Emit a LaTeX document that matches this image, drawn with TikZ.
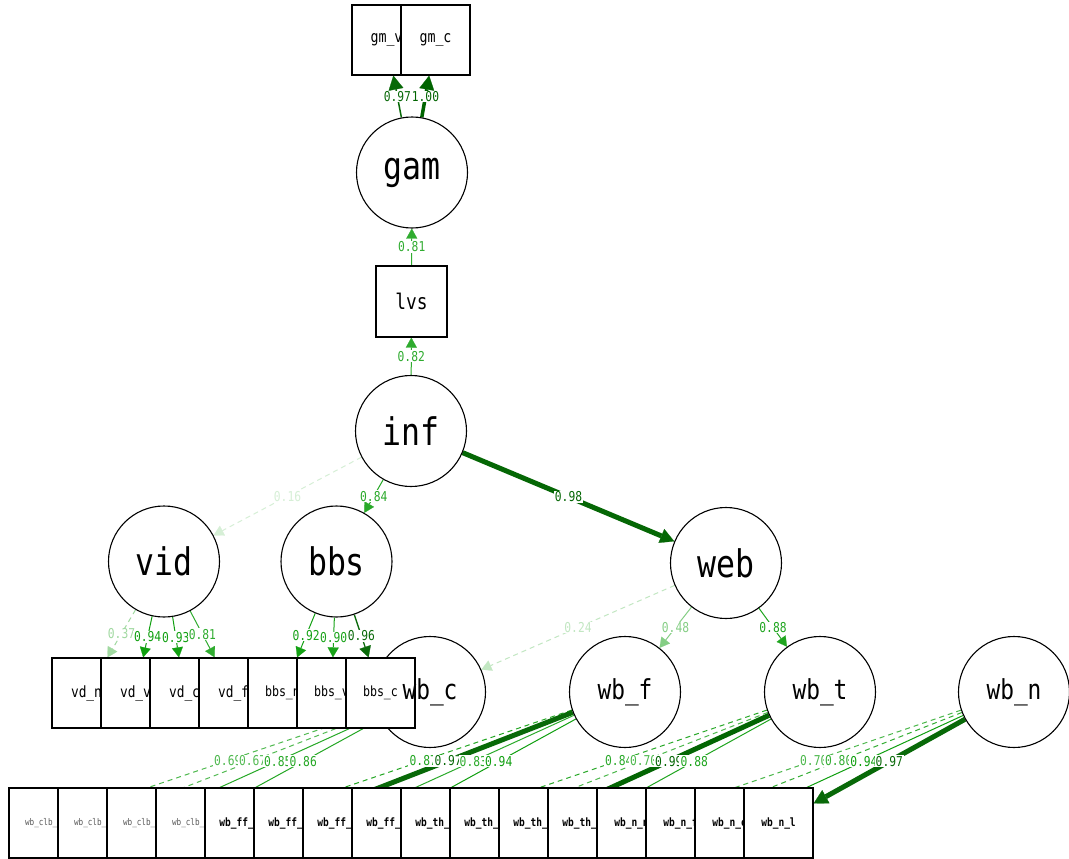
\documentclass[tikz,border=0pt]{standalone}
\usepackage{fontspec}
\newfontfamily\semfont[FakeStretch=0.83]{DejaVu Sans Mono}
\usetikzlibrary{arrows.meta}

\pgfdeclarelayer{bg}
\pgfdeclarelayer{edges}
\pgfdeclarelayer{elabels}
\pgfsetlayers{bg,edges,elabels,main}

\definecolor{poscol}{HTML}{009900}
\definecolor{cutcol}{HTML}{006400}

% \semedge[extra style]{from}{to}{loading}
% colour fades with the loading; loadings above the cut are dark and wide
\newcommand\semedge[4][]{%
  \pgfmathtruncatemacro\epct{round(100*#4)}%
  \ifdim #4pt<0.955pt
    \colorlet{ecol}{poscol!\epct!white}%
    \tikzset{ecur/.style={line width=1pt,-{Triangle[length=10pt,width=11pt,line width=0.2pt]}}}%
  \else
    \colorlet{ecol}{cutcol!\epct!white}%
    \ifdim #4pt<0.965pt
      \tikzset{ecur/.style={line width=1.3pt,-{Triangle[length=11pt,width=12pt,line width=0.2pt]}}}%
    \else
      \tikzset{ecur/.style={line width=5pt,-{Triangle[length=14pt,width=15pt,line width=0.2pt]}}}%
    \fi
  \fi
  \begin{pgfonlayer}{edges}
    \draw[ecol, ecur, #1] (#2) -- (#3);
  \end{pgfonlayer}
  \begin{pgfonlayer}{elabels}
    \path (#2) -- (#3) node[midway, elab, text=ecol] (lab-#2-#3) {#4};
  \end{pgfonlayer}%
}

\begin{document}
\begin{tikzpicture}[x=1pt, y=-1pt,
  latent/.style={circle, draw, line width=1.1pt, fill=white, minimum size=111pt,
    inner sep=0pt, font=\semfont\fontsize{38}{38}\selectfont},
  latsmall/.style={latent, font=\semfont\fontsize{27.5}{28}\selectfont},
  manifest/.style={rectangle, draw, line width=1.2pt, fill=white,
    minimum width=69pt, minimum height=70pt, inner sep=0pt},
  gmtxt/.style={font=\semfont\fontsize{16}{16}\selectfont},
  vdtxt/.style={font=\semfont\fontsize{15.5}{16}\selectfont},
  bbstxt/.style={font=\semfont\fontsize{14}{14}\selectfont},
  clbtxt/.style={font=\semfont\fontsize{9.2}{10}\selectfont, text=black!65},
  rowtxt/.style={font=\semfont\bfseries\fontsize{11.5}{12}\selectfont},
  elab/.style={font=\semfont\fontsize{13.6}{14}\selectfont, fill=white,
    inner xsep=1.2pt, inner ysep=0.8pt},
  brk/.style={dash pattern=on 5pt off 4pt}
]
\begin{pgfonlayer}{bg}
  \fill[white] (0,0) rectangle (1069,859);
\end{pgfonlayer}
\useasboundingbox (0,0) rectangle (1069,859);

% latent variables
\node[latent] (gam) at (412,172.5) {gam};
\node[latent] (inf) at (411,431) {inf};
\node[latent] (vid) at (164,561.5) {vid};
\node[latent] (bbs) at (336.5,561.5) {bbs};
\node[latent] (web) at (726,563) {web};
\node[latsmall] (wbc) at (430,692) {};
\node[latsmall] (wbf) at (625,692) {wb\_f};
\node[latsmall] (wbt) at (820,692) {wb\_t};
\node[latsmall] (wbn) at (1014,692) {wb\_n};

% indicators
\node[manifest, minimum width=71pt, minimum height=71pt,
  font=\semfont\fontsize{21.5}{22}\selectfont] (lvs) at (411.5,301.5) {lvs};

\node[manifest, gmtxt] (gmv) at (386.5,40) {gm\_v};
\node[manifest, gmtxt] (gmc) at (435.5,40) {gm\_c};

\node[manifest, vdtxt] (vdn) at (86.5,693) {vd\_n};
\node[manifest, vdtxt] (vdv) at (135.5,693) {vd\_v};
\node[manifest, vdtxt] (vdc) at (184.5,693) {vd\_c};
\node[manifest, vdtxt] (vdf) at (233.5,693) {vd\_f};
\node[manifest, bbstxt] (bbsn) at (282.5,693) {bbs\_n};
\node[manifest, bbstxt] (bbsv) at (331.5,693) {bbs\_v};
\node[manifest, bbstxt] (bbsc) at (380.5,693) {bbs\_c};

\node[manifest, clbtxt] (clbn) at (43.5,823) {wb\_clb\_n};
\node[manifest, clbtxt] (clbf) at (92.5,823) {wb\_clb\_f};
\node[manifest, clbtxt] (clbc) at (141.5,823) {wb\_clb\_c};
\node[manifest, clbtxt] (clbl) at (190.5,823) {wb\_clb\_l};
\node[manifest, rowtxt] (ffn) at (239.5,823) {wb\_ff\_n};
\node[manifest, rowtxt] (fff) at (288.5,823) {wb\_ff\_f};
\node[manifest, rowtxt] (ffc) at (337.5,823) {wb\_ff\_c};
\node[manifest, rowtxt] (ffl) at (386.5,823) {wb\_ff\_l};
\node[manifest, rowtxt] (thn) at (435.5,823) {wb\_th\_n};
\node[manifest, rowtxt] (thf) at (484.5,823) {wb\_th\_f};
\node[manifest, rowtxt] (thc) at (533.5,823) {wb\_th\_c};
\node[manifest, rowtxt] (thl) at (582.5,823) {wb\_th\_l};
\node[manifest, rowtxt] (nn) at (631.5,823) {wb\_n\_n};
\node[manifest, rowtxt] (nf) at (680.5,823) {wb\_n\_f};
\node[manifest, rowtxt] (nc) at (729.5,823) {wb\_n\_c};
\node[manifest, rowtxt] (nl) at (778.5,823) {wb\_n\_l};

% label of wb_c sits above the overlapping indicator box
\node[font=\semfont\fontsize{27.5}{28}\selectfont] (wbctxt) at (wbc) {wb\_c};

% structural paths
\semedge[line width=1.5pt]{gam}{gmv}{0.97}
\semedge[line width=3.5pt]{gam}{gmc}{1.00}
\semedge{lvs}{gam}{0.81}
\semedge{inf}{lvs}{0.82}
\semedge[brk]{inf}{vid}{0.16}
\semedge{inf}{bbs}{0.84}
\semedge{inf}{web}{0.98}

\semedge[brk]{vid}{vdn}{0.37}
\semedge{vid}{vdv}{0.94}
\semedge{vid}{vdc}{0.93}
\semedge{vid}{vdf}{0.81}

\semedge{bbs}{bbsn}{0.92}
\semedge{bbs}{bbsv}{0.90}
\semedge{bbs}{bbsc}{0.96}

\semedge[brk]{web}{wbc}{0.24}
\semedge{web}{wbf}{0.48}
\semedge{web}{wbt}{0.88}

\semedge[brk]{wbc}{clbn}{0.69}
\semedge[brk]{wbc}{clbf}{0.67}
\semedge{wbc}{clbc}{0.85}
\semedge{wbc}{clbl}{0.86}

\semedge[brk]{wbf}{ffn}{0.87}
\semedge{wbf}{fff}{0.97}
\semedge{wbf}{ffc}{0.83}
\semedge{wbf}{ffl}{0.94}

\semedge[brk]{wbt}{thn}{0.84}
\semedge[brk]{wbt}{thf}{0.70}
\semedge{wbt}{thc}{0.99}
\semedge{wbt}{thl}{0.88}

\semedge[brk]{wbn}{nn}{0.70}
\semedge[brk]{wbn}{nf}{0.80}
\semedge{wbn}{nc}{0.94}
\semedge{wbn}{nl}{0.97}
\end{tikzpicture}
\end{document}
